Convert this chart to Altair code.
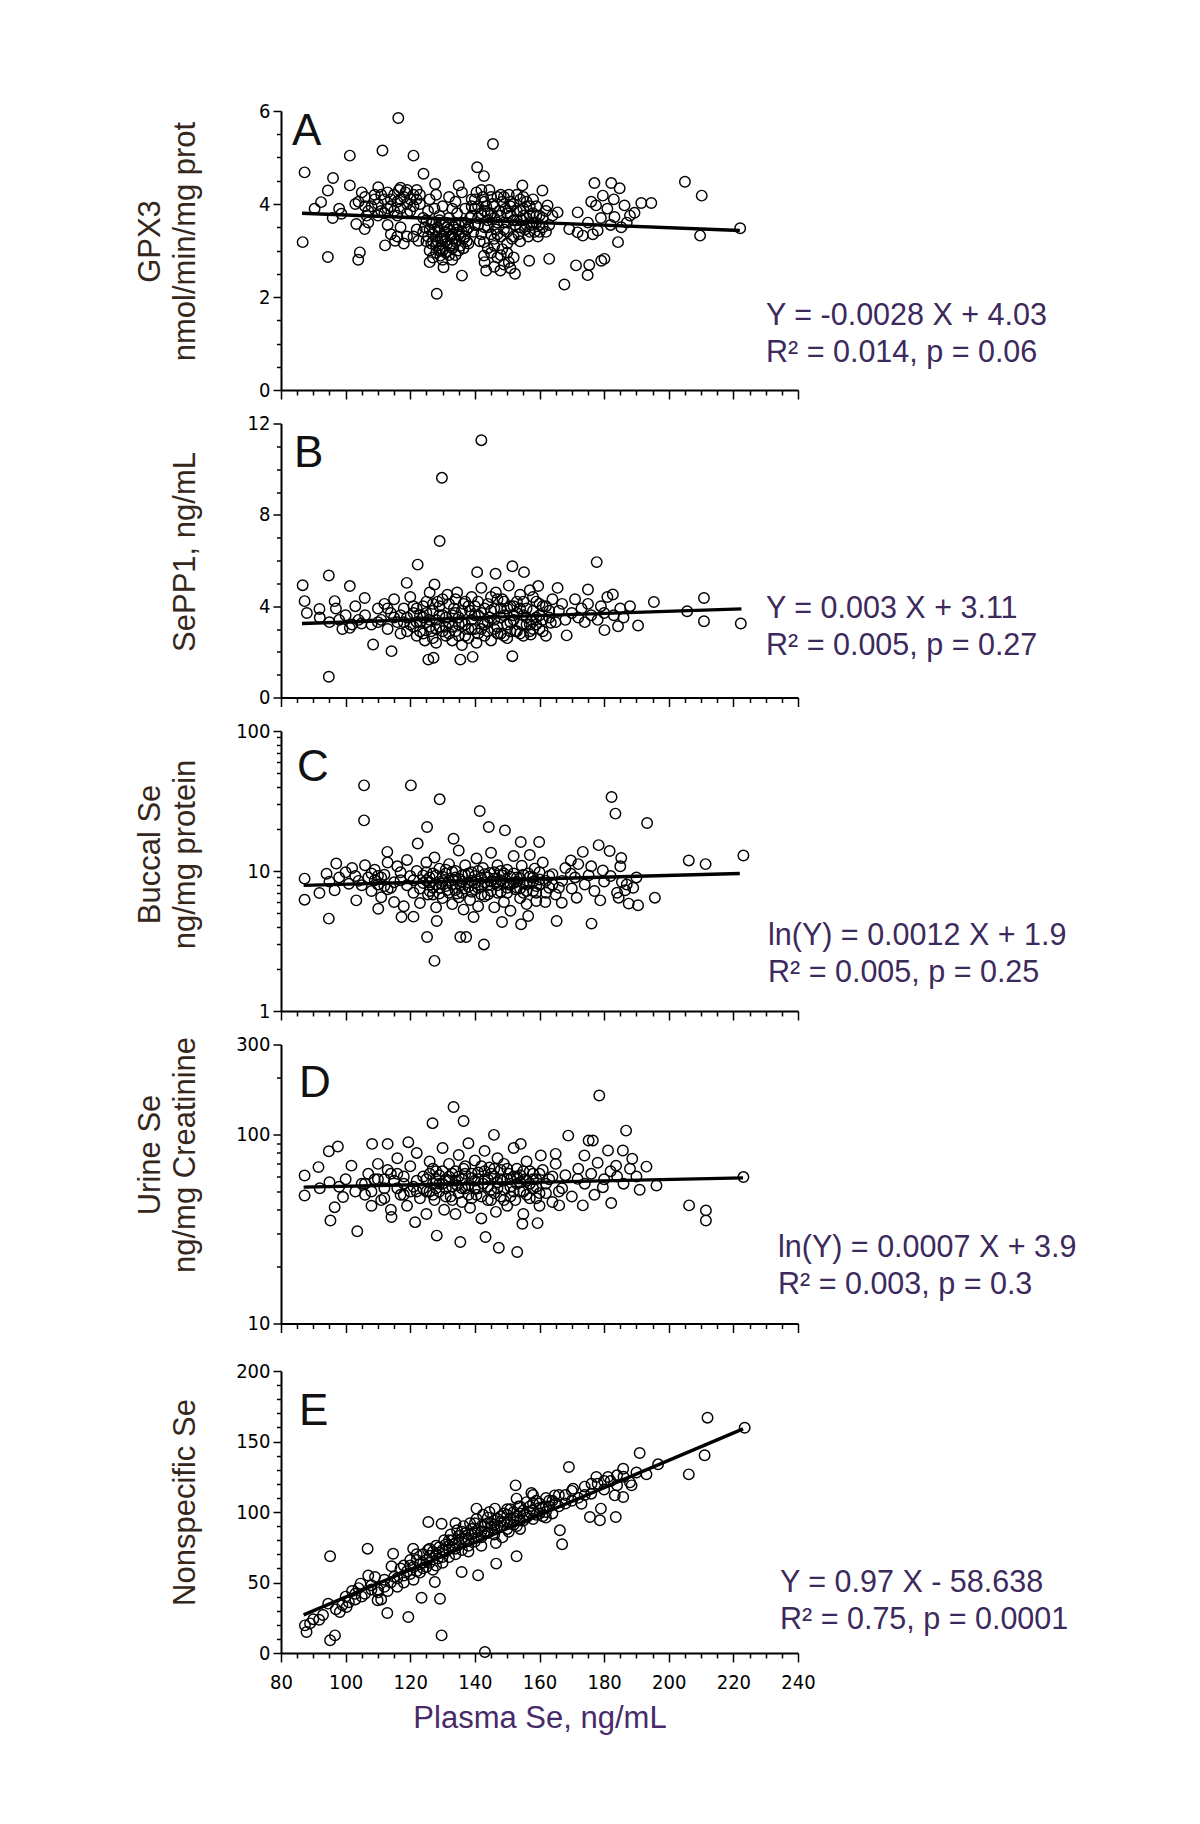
import altair as alt
import pandas as pd

# ---------------- data ----------------
X_TICKS = list(range(80, 245, 5))
X_MAJOR = list(range(80, 260, 20))

GPX3_PTS = [
    [116.3, 5.85], [145.6, 5.29], [101.3, 5.04], [111.4, 5.15], [121.0, 5.04], [87.3, 4.68], [140.7, 4.79],
    [124.1, 4.65], [142.8, 4.60], [96.1, 4.56], [101.3, 4.40], [94.5, 4.29], [110.1, 4.36], [127.7, 4.43],
    [135.0, 4.40], [154.7, 4.40], [160.9, 4.29], [177.0, 4.45], [182.2, 4.45], [184.8, 4.34], [205.0, 4.48],
    [210.2, 4.18], [194.6, 4.02], [191.5, 4.02], [189.4, 3.81], [186.3, 3.97], [179.6, 4.18], [177.5, 3.97],
    [171.8, 3.82], [165.6, 3.82], [162.5, 3.97], [183.2, 3.72], [185.3, 3.50], [178.0, 3.43], [171.8, 3.39],
    [173.4, 3.32], [169.2, 3.46], [222.1, 3.48], [209.7, 3.32], [184.3, 3.18], [86.7, 3.18], [94.5, 2.86],
    [104.4, 2.96], [103.9, 2.80], [112.2, 3.11], [115.3, 3.21], [103.3, 3.57], [105.9, 3.46], [98.7, 3.79],
    [90.4, 3.90], [92.4, 4.04], [106.5, 3.75], [130.3, 2.64], [128.2, 2.07], [136.0, 2.46], [143.5, 2.57],
    [147.9, 2.57], [152.4, 2.50], [156.8, 2.78], [163.0, 2.82], [167.7, 2.27], [171.3, 2.68], [174.9, 2.47],
    [175.4, 2.69], [179.1, 2.78], [180.1, 2.82], [142.8, 3.18], [142.8, 2.89], [148.5, 3.03], [150.5, 2.75],
    [129.3, 2.89], [122.5, 3.21],
    [176.0, 4.05], [181.0, 3.90], [183.0, 4.10], [187.0, 3.60], [182.0, 3.55], [179.0, 3.70], [176.5, 3.35],
    [175.0, 3.60], [188.0, 3.75],
    [104, 4.05], [106, 4.15], [108, 3.95], [109, 4.2], [110, 4.0], [111, 3.85], [112, 4.1], [113, 4.25],
    [114, 3.95], [115, 4.2], [116, 4.05], [116.5, 4.3], [117, 3.9], [118, 4.15], [118.5, 4.25], [119, 3.8],
    [120, 4.1], [121, 3.95], [122, 4.3], [123, 4.0], [124, 3.7], [107, 3.6], [113, 3.55], [117, 3.5],
    [119, 3.3], [121, 3.3], [122, 3.45], [116, 3.3], [118, 3.15], [114, 3.35],
    [124.5, 3.5], [125, 3.2], [125.5, 3.85], [126, 3.0], [126.5, 3.6], [127, 3.35], [127.5, 3.9], [128, 3.1],
    [128.5, 3.5], [129, 3.75], [129.5, 3.25], [130, 3.0], [130.5, 3.55], [131, 3.4], [131.5, 3.15], [132, 3.7],
    [132.5, 3.3], [133, 3.05], [133.5, 3.5], [134, 3.2], [134.5, 3.8], [135, 3.35], [135.5, 3.1], [136, 3.6],
    [136.5, 3.25], [137, 3.9], [137.5, 3.45], [138, 3.15], [126, 4.1], [128, 4.2], [130, 3.95], [132, 4.15],
    [134, 4.05], [136, 4.25], [127, 2.85], [131, 2.95], [129, 3.65], [133, 3.9],
    [138.5, 3.7], [139, 4.1], [139.5, 3.4], [140, 3.9], [140.5, 4.25], [141, 3.55], [141.5, 3.2], [142, 3.8],
    [142.5, 4.15], [143, 3.5], [143.5, 3.95], [144, 3.65], [144.5, 4.3], [145, 3.35], [145.5, 4.0], [146, 3.7],
    [146.5, 3.45], [147, 4.15], [147.5, 3.85], [148, 3.3], [148.5, 4.05], [149, 3.6], [149.5, 3.9], [150, 3.4],
    [150.5, 4.2], [151, 3.75], [151.5, 3.25], [152, 4.0], [152.5, 3.55], [153, 3.85], [153.5, 3.35], [154, 4.1],
    [154.5, 3.65], [155, 3.9], [155.5, 3.45], [156, 3.7], [156.5, 3.3], [157, 3.95], [157.5, 3.55], [158, 3.8],
    [158.5, 3.4], [159, 3.6], [159.5, 3.3], [160, 3.75], [161, 3.5], [162, 3.4],
    [143, 2.75], [145, 2.95], [146, 2.65], [147, 2.85], [149, 2.7], [150, 2.95], [151, 2.62],
    [125.5, 3.3], [126.5, 3.15], [127.5, 3.45], [128.5, 3.2], [129.5, 3.05], [130.5, 3.3], [131.5, 3.5],
    [132.5, 3.1], [133.5, 3.25], [134.5, 3.45], [135.5, 3.3], [136.5, 3.05], [137.5, 3.2], [131, 3.2],
    [133, 3.35], [129, 3.4], [127, 3.6], [135, 3.55], [137, 3.6], [132, 2.9],
    [139, 3.75], [141, 3.95], [143, 4.05], [145, 3.8], [147, 3.6], [149, 4.15], [151, 3.95], [153, 3.65],
    [155, 4.15], [157, 3.75], [159, 3.95], [140, 3.55], [142, 3.35], [144, 3.5], [146, 3.25], [148, 3.75],
    [150, 3.6], [152, 3.3], [154, 3.85], [156, 3.55], [158, 3.6], [160, 3.4], [161, 3.7], [163, 3.55],
    [164, 3.75], [110, 3.75], [112, 3.8], [114, 4.1], [116, 3.75], [120, 3.85], [122, 4.1], [117, 4.1],
    [119, 4.3], [106, 3.95], [103, 4.0], [98, 3.9], [96, 3.7],
    [124, 3.4], [125, 3.65], [126, 3.45], [127, 3.2], [128, 3.3], [129, 3.0], [130, 3.25], [131, 3.6],
    [132, 3.45], [133, 3.15], [134, 3.6], [135, 3.0], [136, 3.4], [137, 3.3], [138, 3.5], [128, 2.95],
    [130, 2.8], [133, 2.8], [126, 2.75], [134, 2.9],
    [139, 3.95], [140, 4.1], [141, 3.7], [142, 4.3], [143, 3.85], [144, 3.8], [145, 4.15], [146, 3.95],
    [147, 3.35], [148, 4.2], [149, 3.45], [150, 3.8], [151, 4.05], [152, 3.65], [153, 4.2], [154, 3.5],
    [155, 3.75], [156, 4.05], [157, 3.4], [158, 4.1], [159, 3.75], [160, 3.55], [162, 3.85], [146, 3.1],
    [148, 2.9], [144, 3.05], [150, 3.15], [152, 2.85], [154, 3.2],
    [105, 4.25], [107, 3.85], [109, 4.1], [111, 4.2], [113, 3.9], [115, 3.85], [117, 4.35], [119, 4.0],
    [121, 4.2], [123, 4.2],
]
GPX3_FIT_X = [86.5, 222.0]
GPX3_FIT_Y = [3.80, 3.43]

SEPP1_PTS = [
    [142.0, 11.27], [129.8, 9.62], [129.1, 6.85], [122.3, 5.82], [177.7, 5.93], [94.8, 5.34], [86.7, 4.92],
    [101.3, 4.88], [87.3, 4.22], [91.9, 3.88], [96.6, 4.22], [94.8, 0.91], [108.5, 2.32], [114.2, 2.03],
    [125.6, 1.66], [127.2, 1.74], [135.5, 1.66], [139.3, 1.78], [151.6, 1.81], [168.4, 2.72], [190.5, 3.15],
    [210.9, 4.36], [210.9, 3.34], [222.3, 3.24], [205.7, 3.78], [195.4, 4.18], [180.1, 2.95], [184.3, 3.12],
    [182.7, 4.51], [175.0, 4.73], [165.6, 4.80], [159.6, 4.88], [140.7, 5.49], [146.4, 5.42], [151.6, 5.75],
    [155.2, 5.49], [118.9, 5.02], [127.5, 4.95], [105.9, 4.36], [101.3, 3.05], [104.9, 3.24], [157.3, 2.76],
    [163.5, 3.27],
    [106, 3.6], [108, 3.2], [110, 3.9], [111, 3.4], [112, 4.1], [113, 3.0], [114, 3.7], [115, 4.3], [116, 3.3],
    [117, 2.8], [118, 3.9], [119, 3.5], [120, 4.4], [121, 3.1], [122, 2.7], [123, 3.6], [124, 4.0], [124.5, 2.5],
    [125, 3.3], [126, 4.6], [126.5, 2.9], [127, 3.8], [128, 2.4], [128.5, 4.2], [129, 3.1], [130, 3.6],
    [131, 2.7], [131.5, 4.5], [132, 3.3], [133, 2.5], [133.5, 3.9], [134, 2.9], [134.5, 4.6], [135, 3.5],
    [136, 2.3], [136.5, 4.1], [137, 3.2], [138, 2.6], [138.5, 3.8], [139, 4.4], [140, 3.0], [140.5, 2.4],
    [141, 3.6], [142, 4.8], [142.5, 3.3], [143, 2.7], [144, 4.1], [144.5, 3.5], [145, 2.5], [146, 3.9],
    [146.5, 4.6], [147, 3.1], [148, 2.8], [148.5, 4.3], [149, 3.6], [150, 2.6], [150.5, 4.9], [151, 3.3],
    [152, 4.0], [152.5, 2.9], [153, 3.7], [154, 4.5], [154.5, 3.2], [155, 2.7], [156, 3.9], [157, 4.7],
    [157.5, 3.4], [158, 3.0], [159, 4.2], [160, 3.6], [161, 2.9], [162, 4.0], [163, 3.5], [164, 4.3],
    [166, 3.8], [167, 4.1], [168, 3.4], [170, 3.7], [171, 4.3], [172, 3.5], [173, 3.9], [174, 3.3], [175, 4.1],
    [176, 3.6], [178, 3.4], [179, 4.0], [180, 3.7], [181, 4.4], [183, 3.6], [185, 3.9], [186, 3.5], [188, 4.0],
    [88, 3.7], [92, 3.5], [95, 3.3], [97, 3.9], [98, 3.4], [100, 3.6], [102, 3.2], [103, 4.0], [104, 3.4],
    [99, 3.0],
    [121, 3.7], [122, 3.3], [123, 2.9], [124, 3.5], [125, 4.2], [126, 3.1], [127, 2.6], [128, 3.4], [129, 4.0],
    [130, 2.9], [131, 3.5], [132, 4.1], [133, 3.1], [134, 3.7], [135, 2.7], [136, 3.3], [137, 4.2], [138, 3.0],
    [139, 3.4], [140, 4.0], [141, 2.8], [142, 3.7], [143, 3.2], [144, 2.9], [145, 3.8], [146, 3.0], [147, 4.3],
    [148, 3.5], [149, 2.7], [150, 3.9], [151, 2.9], [152, 3.4], [153, 4.2], [154, 2.8], [155, 3.6], [156, 3.2],
    [157, 2.9], [158, 3.8], [159, 3.2], [160, 4.1], [161, 3.4], [162, 2.7], [119, 2.9], [118, 3.3], [117, 3.6],
    [115, 3.5], [113, 3.9], [110, 3.3],
    [120, 3.2], [121, 4.0], [122, 3.9], [123, 3.3], [124, 2.8], [125, 3.7], [126, 3.4], [127, 4.1], [128, 3.0],
    [129, 3.6], [130, 4.3], [131, 3.1], [132, 2.8], [133, 3.6], [134, 4.3], [135, 3.2], [136, 3.8], [137, 2.7],
    [138, 4.0], [139, 3.0], [140, 3.6], [141, 4.2], [142, 3.0], [143, 3.9], [144, 3.3], [145, 4.4], [146, 3.4],
    [147, 2.8], [148, 3.9], [149, 4.2], [150, 3.2], [151, 4.0], [152, 3.6], [153, 2.9], [154, 3.9], [155, 4.2],
    [156, 3.5], [157, 3.2], [158, 4.4], [159, 3.5], [160, 3.0], [161, 4.0], [163, 3.8], [165, 3.3],
]
SEPP1_FIT_X = [86.5, 222.5]
SEPP1_FIT_Y = [3.24, 3.88]

BUCCAL_PTS = [
    [105.7, 40.9], [120.2, 40.9], [129.1, 32.5], [141.5, 26.8], [125.2, 20.6], [144.3, 20.6], [149.3, 19.5],
    [105.7, 23.0], [182.3, 33.8], [183.5, 25.7], [193.3, 22.0], [206.2, 11.9], [211.4, 11.2], [223.1, 12.9],
    [133.4, 17.0], [122.3, 15.7], [154.2, 16.1], [159.9, 16.1], [178.3, 15.3], [181.7, 13.9], [185.3, 12.4],
    [173.4, 13.7], [169.7, 11.9], [112.9, 13.7], [94.8, 4.57], [87.3, 8.82], [87.3, 6.24], [91.9, 6.96],
    [96.6, 7.28], [97.1, 11.3], [94.1, 9.57], [103.3, 6.17], [110.1, 5.38], [117.3, 4.69], [121.0, 4.72],
    [125.2, 3.38], [127.5, 2.28], [135.5, 3.38], [137.3, 3.38], [142.8, 2.99], [128.2, 4.39], [139.6, 4.69],
    [148.4, 4.32], [154.3, 4.16], [156.5, 4.77], [165.3, 4.39], [176.1, 4.21], [190.5, 5.69], [195.7, 6.45],
    [187.6, 5.85], [184.5, 6.45], [178.8, 6.17], [171.5, 6.45], [166.9, 5.94], [161.8, 6.0], [186.5, 7.28],
    [185.5, 8.34], [179.6, 10.1], [175.2, 9.31], [169.7, 9.57],
    [100, 9.8], [102, 10.5], [104, 8.5], [106, 11.0], [107, 9.0], [108, 7.2], [109, 10.2], [110, 8.0],
    [111, 6.5], [112, 9.4], [113, 11.5], [114, 7.6], [115, 6.0], [116, 10.8], [117, 8.6], [118, 5.6],
    [119, 12.0], [120, 9.2], [121, 7.0], [122, 10.0], [123, 5.9], [124, 8.2], [125, 11.5], [125.5, 6.8],
    [126, 9.0], [127, 7.6], [127.5, 12.5], [128, 5.5], [129, 10.4], [129.5, 8.1], [130, 6.4], [131, 9.6],
    [131.5, 7.3], [132, 11.2], [133, 5.8], [133.5, 8.7], [134, 10.0], [134.5, 6.9], [135, 14.0], [135.5, 7.9],
    [136, 9.3], [136.5, 5.3], [137, 11.0], [138, 8.3], [138.5, 6.2], [139, 9.8], [140, 7.4], [140.5, 12.3],
    [141, 5.6], [142, 8.9], [142.5, 10.5], [143, 6.6], [144, 7.9], [144.5, 9.7], [145, 13.5], [146, 5.5],
    [146.5, 8.4], [147, 11.0], [148, 7.1], [148.5, 9.3], [149, 6.0], [150, 10.2], [150.5, 8.0], [151, 5.2],
    [152, 12.8], [152.5, 7.4], [153, 9.0], [154, 6.4], [154.5, 10.9], [155, 8.2], [156, 5.8], [156.5, 9.6],
    [157, 13.0], [158, 7.2], [158.5, 10.4], [159, 6.1], [160, 8.7], [161, 11.5], [162, 7.0], [163, 9.2],
    [164, 8.0], [165, 6.8], [167, 8.5], [168, 10.5], [170, 7.5], [171, 9.0], [172, 11.2], [174, 8.0],
    [176, 10.8], [177, 7.2], [180, 8.4], [182, 9.2], [184, 7.0], [185, 10.8], [187, 8.0], [189, 7.6], [190, 9.0],
    [125, 8.6], [126, 7.2], [127, 9.6], [128, 8.0], [129, 6.9], [130, 9.1], [131, 7.8], [132, 8.5], [133, 9.9],
    [134, 7.3], [135, 8.8], [136, 7.0], [137, 9.4], [138, 7.7], [139, 8.5], [140, 9.2], [141, 7.6], [142, 6.8],
    [143, 8.3], [144, 9.0], [145, 7.2], [146, 8.8], [147, 7.9], [148, 10.0], [149, 8.3], [150, 7.0], [151, 9.1],
    [152, 8.2], [153, 7.6], [154, 8.9], [155, 7.0], [156, 8.0], [157, 9.1], [158, 8.4], [159, 7.8], [160, 9.8],
    [162, 8.5], [164, 9.5], [166, 7.6], [124, 9.3], [123, 7.5], [121, 8.6], [119, 7.9], [117, 9.8], [115, 8.3],
    [113, 7.4], [111, 9.0], [109, 8.6], [105, 7.9], [103, 9.2], [101, 8.1], [98, 9.0], [95, 8.4],
    [125, 9.8], [126, 8.3], [127, 6.8], [128, 9.3], [129, 7.6], [130, 8.5], [131, 10.2], [132, 7.0], [133, 8.0],
    [134, 9.0], [135, 6.5], [136, 8.4], [137, 7.5], [138, 9.6], [139, 7.1], [140, 8.2], [141, 10.0], [142, 7.8],
    [143, 9.5], [144, 6.8], [145, 8.4], [146, 9.8], [147, 7.0], [148, 8.6], [149, 9.6], [150, 7.6], [151, 8.0],
    [152, 9.6], [153, 8.4], [154, 7.5], [155, 9.4], [156, 7.2], [157, 8.2], [158, 9.0], [159, 7.0], [160, 8.0],
    [163, 7.6], [108, 9.6], [110, 9.2], [112, 7.8],
]
BUCCAL_FIT_X = [87.0, 222.0]
BUCCAL_FIT_Y = [7.9, 9.6]

URINE_PTS = [
    [178.5, 161], [133.4, 140], [136.5, 118], [126.9, 115], [186.8, 105], [168.9, 98.8], [145.9, 99.7],
    [175.2, 93.1], [97.6, 86.5], [94.8, 81.7], [108.2, 89.3], [113.0, 89.3], [119.4, 91.2], [154.2, 89.3],
    [165.0, 79.1], [160.4, 77.5], [185.8, 82.4], [188.7, 74.5], [193.1, 67.7], [91.6, 67.3], [87.3, 60.8],
    [101.8, 68.5], [87.3, 47.6], [99.2, 46.7], [96.6, 41.3], [95.3, 35.1], [103.6, 30.8], [114.2, 36.6],
    [121.5, 34.4], [128.2, 29.2], [135.5, 27.0], [143.3, 28.7], [147.4, 25.2], [153.1, 23.9], [154.7, 33.7],
    [159.4, 34.0], [206.3, 42.2], [211.5, 39.7], [211.5, 35.1], [223.1, 59.6], [196.2, 53.8], [191.0, 51.1],
    [182.2, 43.4], [173.4, 42.2], [166.1, 42.2], [173.9, 77.5], [176.5, 93.1], [181.2, 82.4], [183.7, 68.5],
    [179.6, 52.7], [171.8, 58.3],
    [105, 55], [106, 48], [107, 62], [108, 42], [109, 58], [110, 70], [111, 45], [112, 52], [113, 65],
    [114, 40], [115, 57], [116, 75], [117, 48], [118, 60], [119, 42], [120, 68], [121, 53], [122, 80],
    [123, 46], [124, 60], [125, 38], [126, 72], [127, 55], [127.5, 45], [128, 64], [129, 50], [130, 85],
    [130.5, 40], [131, 58], [132, 70], [132.5, 47], [133, 62], [134, 38], [134.5, 54], [135, 78], [136, 44],
    [136.5, 66], [137, 52], [138, 90], [138.5, 41], [139, 59], [140, 73], [140.5, 48], [141, 63], [142, 36],
    [142.5, 55], [143, 82], [144, 45], [144.5, 67], [145, 51], [146, 60], [146.5, 39], [147, 75], [148, 47],
    [148.5, 57], [149, 70], [150, 42], [150.5, 62], [151, 53], [152, 85], [152.5, 45], [153, 66], [154, 50],
    [155, 38], [155.5, 58], [156, 72], [157, 46], [158, 62], [159, 53], [160, 42], [161, 65], [162, 49],
    [163, 58], [164, 44], [165, 70], [167, 52], [168, 61], [170, 47], [172, 66], [174, 55], [176, 62],
    [177, 48], [178, 71], [180, 58], [182, 64], [184, 60], [186, 55], [188, 66], [190, 60],
    [125, 58], [126, 50], [127, 66], [128, 52], [129, 61], [130, 55], [131, 47], [132, 57], [133, 53],
    [134, 64], [135, 49], [136, 58], [137, 62], [138, 54], [139, 46], [140, 57], [141, 52], [142, 68],
    [143, 58], [144, 53], [145, 62], [146, 49], [147, 56], [148, 65], [149, 51], [150, 58], [151, 47],
    [152, 60], [153, 55], [154, 61], [155, 50], [156, 57], [157, 64], [158, 52], [159, 58], [160, 49],
    [162, 55], [164, 60], [166, 50], [124, 52], [122, 57], [120, 50], [118, 55], [116, 52], [114, 62],
    [112, 46], [110, 58], [108, 50], [106, 55], [103, 50], [100, 58], [98, 53], [95, 56], [92, 52],
    [125, 50], [126, 62], [127, 48], [128, 58], [129, 55], [130, 64], [131, 52], [132, 60], [133, 45],
    [134, 57], [135, 60], [136, 52], [137, 68], [138, 48], [139, 62], [140, 52], [141, 58], [142, 47],
    [143, 64], [144, 58], [145, 45], [146, 66], [147, 52], [148, 58], [149, 45], [150, 66], [151, 58],
    [152, 50], [153, 60], [154, 56], [155, 64], [156, 48], [157, 55], [158, 58], [159, 46], [160, 62],
    [112, 58], [118, 48], [122, 50], [116, 62],
]
URINE_FIT_X = [87.0, 223.0]
URINE_FIT_Y = [52.7, 59.0]

NONSPEC_PTS = [
    [212.0, 166.9], [223.5, 159.8], [211.1, 140.2], [206.2, 126.7], [191.0, 141.8], [196.7, 133.8],
    [193.1, 126.7], [169.1, 131.9], [185.9, 130.7], [181.2, 124.8], [177.6, 124.8], [176.1, 120.1],
    [188.5, 118.9], [185.9, 110.6], [183.3, 111.8], [175.6, 96.5], [178.7, 94.1], [183.6, 96.5], [179.0, 102.4],
    [173.0, 105.9], [170.4, 116.5], [164.7, 111.8], [166.3, 87.0], [167.0, 77.1], [152.6, 118.9], [157.5, 113.5],
    [152.9, 109.5], [140.5, 102.4], [146.2, 102.4], [125.6, 92.9], [129.7, 91.7], [114.7, 70.4], [120.9, 74.0],
    [106.8, 74.0], [95.2, 68.6], [114.2, 61.5], [109.1, 53.9], [104.6, 49.2], [152.9, 68.6], [146.6, 63.4],
    [141.0, 55.1], [135.9, 57.4], [129.2, 38.5], [127.6, 50.4], [123.5, 39.2], [119.4, 25.5], [112.9, 28.4],
    [109.9, 37.4], [100.3, 32.6], [98.2, 29.1], [91.8, 23.6], [87.4, 19.6], [87.9, 14.9], [96.7, 12.5],
    [95.2, 9.0], [129.7, 12.5], [143.1, 0.7], [94.6, 35.0],
    [115, 54], [116, 47], [117, 60], [118, 50], [119, 58], [120, 62], [121, 52], [122, 66], [123, 57],
    [124, 70], [125, 61], [125.5, 73], [126, 64], [127, 59], [128, 76], [128.5, 67], [129, 71], [130, 64],
    [130.5, 80], [131, 72], [132, 68], [132.5, 84], [133, 75], [134, 70], [134.5, 87], [135, 78], [136, 73],
    [136.5, 90], [137, 81], [138, 76], [138.5, 92], [139, 84], [140, 79], [140.5, 95], [141, 87], [142, 82],
    [142.5, 98], [143, 90], [144, 85], [144.5, 100], [145, 92], [146, 88], [146.5, 78], [147, 95], [148, 90],
    [148.5, 82], [149, 99], [150, 93], [150.5, 86], [151, 102], [152, 96], [153, 90], [153.5, 104], [154, 99],
    [155, 94], [156, 107], [157, 100], [158, 95], [159, 108], [160, 103], [161, 97], [162, 110], [163, 104],
    [164, 99], [166, 112], [168, 106], [170, 115], [172, 110], [174, 118], [176, 113], [178, 120], [180, 116],
    [182, 122], [184, 119], [186, 125], [188, 121], [190, 128],
    [100, 40], [102, 44], [104, 46], [106, 42], [108, 48], [110, 45], [112, 52], [113, 44], [103, 38],
    [107, 55], [111, 38],
    [125, 66], [126, 69], [127, 72], [128, 70], [129, 75], [130, 73], [131, 77], [132, 76], [133, 80],
    [134, 78], [135, 83], [136, 81], [137, 85], [138, 84], [139, 88], [140, 86], [141, 82], [142, 90],
    [143, 86], [144, 92], [145, 89], [146, 94], [147, 90], [148, 97], [149, 93], [150, 98], [151, 95],
    [152, 100], [153, 97], [154, 94], [155, 101], [156, 98], [157, 104], [158, 101], [159, 98], [160, 106],
    [161, 103], [162, 100], [163, 108], [165, 106], [120, 56], [121, 61], [122, 58], [123, 63], [124, 60],
    [118, 55], [116, 53], [114, 50], [112, 47], [110, 43], [108, 45], [105, 40], [103, 42], [101, 36],
    [99, 34], [97, 31], [93, 27], [90, 24], [89, 21],
    [130, 68], [132, 80], [134, 74], [136, 86], [138, 80], [140, 92], [142, 86], [144, 96], [146, 91],
    [148, 93], [150, 102], [152, 91], [154, 104], [156, 96], [158, 106], [160, 99], [162, 104], [164, 108],
    [128, 62], [126, 74], [124, 64], [122, 70], [120, 66], [118, 62], [134, 92], [138, 72], [142, 76],
    [146, 84], [150, 88], [154, 88], [158, 112], [162, 96], [166, 104], [168, 112], [170, 108], [174, 112],
    [180, 122], [184, 126],
]
NONSPEC_FIT_X = [87.0, 223.0]
NONSPEC_FIT_Y = [27.0, 159.0]

# y-axis tick values (minor + major) and labelled majors
GPX3_TICKS = [i * 0.5 for i in range(13)]
GPX3_MAJOR = [0, 2, 4, 6]
SEPP1_TICKS = list(range(0, 13))
SEPP1_MAJOR = [0, 4, 8, 12]
BUCCAL_TICKS = [1, 2, 3, 4, 5, 6, 7, 8, 9, 10, 20, 30, 40, 50, 60, 70, 80, 90, 100]
BUCCAL_MAJOR = [1, 10, 100]
URINE_TICKS = [10, 20, 30, 40, 50, 60, 70, 80, 90, 100, 200, 300]
URINE_MAJOR = [10, 100, 300]
NONSPEC_TICKS = list(range(0, 210, 10))
NONSPEC_MAJOR = [0, 50, 100, 150, 200]

EQUATIONS = {
    "A": ["Y = -0.0028 X + 4.03", "R\u00b2 = 0.014, p = 0.06"],
    "B": ["Y = 0.003 X + 3.11", "R\u00b2 = 0.005, p = 0.27"],
    "C": ["ln(Y) = 0.0012 X + 1.9", "R\u00b2 = 0.005, p = 0.25"],
    "D": ["ln(Y) = 0.0007 X + 3.9", "R\u00b2 = 0.003, p = 0.3"],
    "E": ["Y = 0.97 X - 58.638", "R\u00b2 = 0.75, p = 0.0001"],
}

# ---------------- styling ----------------
FONT = "Liberation Sans"
TICK_FONT = "Liberation Sans Narrow, DejaVu Sans Condensed, Liberation Sans"
TITLE_COLOR = "#35271c"
EQ_COLOR = "#3c2a5c"
XTITLE_COLOR = "#472b68"
W = 517


def is_major(vals):
    return "indexof([" + ",".join(repr(v) for v in vals) + "], datum.value) >= 0"


def y_axis(ticks, majors, title, tx, ty):
    test = is_major(majors)
    return alt.Axis(
        values=ticks, title=title, grid=False,
        labelExpr=f"{test} ? format(datum.value, 'd') : ''",
        labelOverlap=False, labelFlush=False,
        tickSize={"condition": {"test": test, "value": 8}, "value": 4.5},
        tickColor="black", tickWidth=1.5, domainColor="black", domainWidth=2,
        labelFont=TICK_FONT, labelFontSize=20, labelColor="black", labelPadding=3,
        titleFont=FONT, titleFontSize=31, titleFontWeight="normal", titleColor=TITLE_COLOR,
        titleX=tx, titleY=ty, titleAngle=270, titleAlign="center", titleBaseline="middle",
        titleLineHeight=35,
    )


def x_axis(show_labels):
    test = is_major(X_MAJOR)
    kw = dict(
        values=X_TICKS, grid=False, labelOverlap=False, labelFlush=False,
        tickSize={"condition": {"test": test, "value": 9}, "value": 5},
        tickColor="black", tickWidth=1.5, domainColor="black", domainWidth=2,
    )
    if show_labels:
        kw.update(
            labels=True, labelExpr=f"{test} ? format(datum.value, 'd') : ''",
            labelFont=TICK_FONT, labelFontSize=20, labelColor="black", labelPadding=10,
            title="Plasma Se, ng/mL", titleFont=FONT, titleFontSize=31, titleFontWeight="normal",
            titleColor=XTITLE_COLOR, titlePadding=11,
        )
    else:
        kw.update(labels=False, title=None)
    return alt.Axis(**kw)


def panel(points, fit_x, fit_y, yscale, yaxis, height, letter, letter_xy, eq_xy, last):
    df = pd.DataFrame(points, columns=["x", "y"])
    fit = pd.DataFrame({"x": fit_x, "y": fit_y})
    xenc = alt.X("x:Q", scale=alt.Scale(domain=[80, 240], nice=False, zero=False), axis=x_axis(last))
    yenc = alt.Y("y:Q", scale=yscale, axis=yaxis)
    pts = alt.Chart(df).mark_point(
        shape="circle", filled=False, size=110, strokeWidth=1.45, color="black", opacity=1
    ).encode(x=xenc, y=yenc)
    line = alt.Chart(fit).mark_line(color="black", strokeWidth=3.4).encode(x=xenc, y=yenc)
    lab = alt.Chart(pd.DataFrame({"t": [letter]})).mark_text(
        align="left", baseline="alphabetic", font=FONT, fontSize=44, color="#111111"
    ).encode(text="t:N", x=alt.value(letter_xy[0]), y=alt.value(letter_xy[1]))
    lines = EQUATIONS[letter]
    eq1 = alt.Chart(pd.DataFrame({"t": [lines[0]]})).mark_text(
        align="left", baseline="alphabetic", font=FONT, fontSize=30.5, color=EQ_COLOR
    ).encode(text="t:N", x=alt.value(eq_xy[0]), y=alt.value(eq_xy[1]))
    eq2 = alt.Chart(pd.DataFrame({"t": [lines[1]]})).mark_text(
        align="left", baseline="alphabetic", font=FONT, fontSize=30.5, color=EQ_COLOR
    ).encode(text="t:N", x=alt.value(eq_xy[0]), y=alt.value(eq_xy[1] + 37))
    return alt.layer(pts, line, lab, eq1, eq2).properties(width=W, height=height)


pa = panel(GPX3_PTS, GPX3_FIT_X, GPX3_FIT_Y,
           alt.Scale(domain=[0, 6], nice=False),
           y_axis(GPX3_TICKS, GPX3_MAJOR, ["GPX3", "nmol/min/mg prot"], -131, 130),
           279, "A", (11, 34), (485, 214), False)
pb = panel(SEPP1_PTS, SEPP1_FIT_X, SEPP1_FIT_Y,
           alt.Scale(domain=[0, 12], nice=False),
           y_axis(SEPP1_TICKS, SEPP1_MAJOR, "SePP1, ng/mL", -96, 128),
           274, "B", (13, 43), (485, 194), False)
pc = panel(BUCCAL_PTS, BUCCAL_FIT_X, BUCCAL_FIT_Y,
           alt.Scale(type="log", domain=[1, 100], nice=False),
           y_axis(BUCCAL_TICKS, BUCCAL_MAJOR, ["Buccal Se", "ng/mg protein"], -131, 123),
           280, "C", (16, 50), (487, 214), False)
pd_ = panel(URINE_PTS, URINE_FIT_X, URINE_FIT_Y,
            alt.Scale(type="log", domain=[10, 300], nice=False),
            y_axis(URINE_TICKS, URINE_MAJOR, ["Urine Se", "ng/mg Creatinine"], -131, 110),
            279, "D", (18, 52), (497, 212), False)
pe = panel(NONSPEC_PTS, NONSPEC_FIT_X, NONSPEC_FIT_Y,
           alt.Scale(domain=[0, 200], nice=False),
           y_axis(NONSPEC_TICKS, NONSPEC_MAJOR, "Nonspecific Se", -96, 131),
           282, "E", (18, 54), (499, 221), True)

top = alt.vconcat(pa, pb, pc, pd_, spacing=33.5, bounds="flush")
chart = alt.vconcat(top, pe, spacing=27).properties(
    padding={"left": 125, "top": 93, "right": 10, "bottom": 10},
    background="white",
).configure_view(stroke=None)

chart.save("out.html", embed_options={"renderer": "svg", "actions": False})
